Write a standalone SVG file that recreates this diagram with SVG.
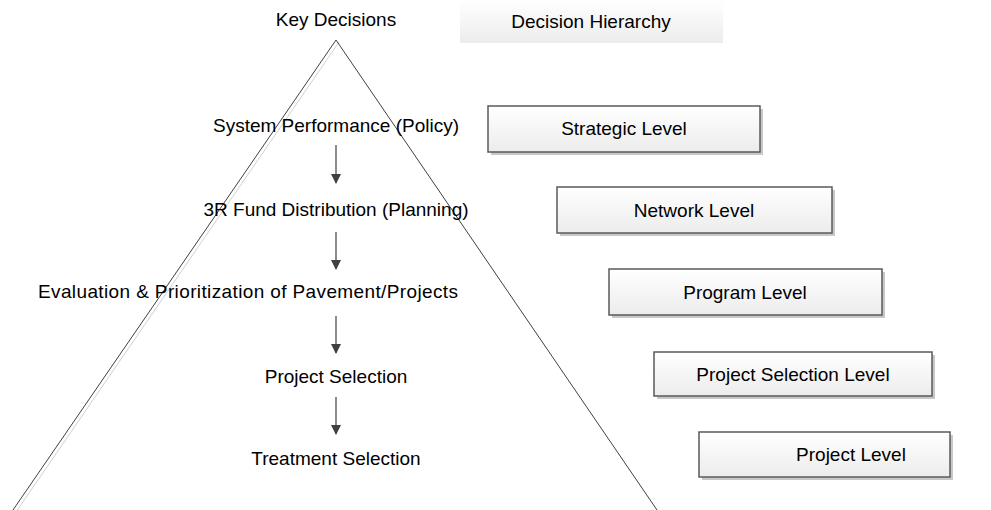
<svg xmlns="http://www.w3.org/2000/svg" width="991" height="510" viewBox="0 0 991 510">
<defs>
<linearGradient id="g" x1="0" y1="0" x2="0" y2="1"><stop offset="0" stop-color="#ffffff"/><stop offset="1" stop-color="#ececec"/></linearGradient>
<marker id="ah" markerWidth="10" markerHeight="10" refX="9" refY="5" orient="auto" markerUnits="userSpaceOnUse"><path d="M0,0 L10,5 L0,10 z" fill="#404040"/></marker>
<style>
text{font-family:"Liberation Sans",Arial,sans-serif;font-size:19px;fill:#000;text-anchor:middle}
.box{fill:url(#g);stroke:#5a5a5a;stroke-width:1.5}
.sh{fill:#c8c8c8}
.con line{stroke:#404040;stroke-width:1.2}
</style>
</defs>
<g id="pyramid">
<line x1="339" y1="42" x2="16" y2="512" stroke="#d0d0d0" stroke-width="1"/>
<polyline points="13,510 336,40 657,510" fill="none" stroke="#404040" stroke-width="1"/>
</g>
<g id="key-decisions"><text x="336" y="26">Key Decisions</text></g>
<g id="decision-hierarchy"><rect x="460" y="0" width="263" height="43" fill="url(#g)"/><text x="591" y="28">Decision Hierarchy</text></g>
<g id="n1"><text x="336" y="132">System Performance (Policy)</text></g>
<g id="n2"><text x="336" y="216">3R Fund Distribution (Planning)</text></g>
<g id="n3"><text x="38" y="298" style="text-anchor:start" textLength="420" lengthAdjust="spacing">Evaluation &amp; Prioritization of Pavement/Projects</text></g>
<g id="n4"><text x="336" y="383">Project Selection</text></g>
<g id="n5"><text x="336" y="465">Treatment Selection</text></g>
<g id="strategic"><rect class="sh" x="491" y="109" width="272" height="46"/><rect class="box" x="488" y="106" width="272" height="46"/><text x="624" y="135">Strategic Level</text></g>
<g id="network"><rect class="sh" x="560" y="190" width="275" height="46"/><rect class="box" x="557" y="187" width="275" height="46"/><text x="694" y="217">Network Level</text></g>
<g id="program"><rect class="sh" x="612" y="272" width="273" height="46"/><rect class="box" x="609" y="269" width="273" height="46"/><text x="745" y="299">Program Level</text></g>
<g id="project-selection"><rect class="sh" x="657" y="355" width="278" height="44"/><rect class="box" x="654" y="352" width="278" height="44"/><text x="793" y="381">Project Selection Level</text></g>
<g id="project"><rect class="sh" x="702" y="435" width="251" height="45"/><rect class="box" x="699" y="432" width="251" height="45"/><text x="851" y="461">Project Level</text></g>
<g class="con" id="connectors">
<line x1="336" y1="145" x2="336" y2="183" marker-end="url(#ah)"/>
<line x1="336" y1="232" x2="336" y2="269" marker-end="url(#ah)"/>
<line x1="336" y1="316" x2="336" y2="353" marker-end="url(#ah)"/>
<line x1="336" y1="397" x2="336" y2="434" marker-end="url(#ah)"/>
</g>
</svg>
